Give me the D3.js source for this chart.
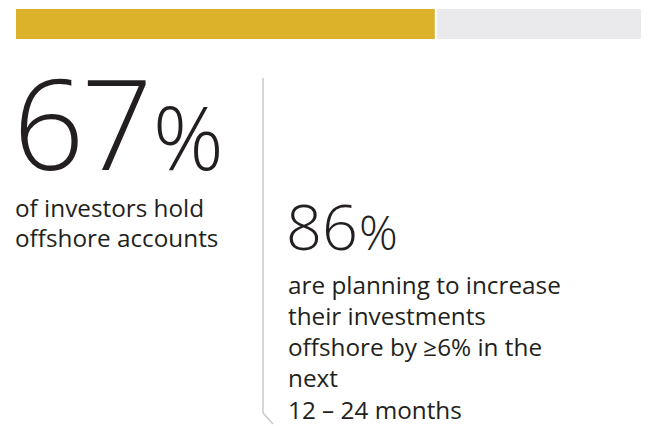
<!DOCTYPE html>
<html>
<head>
<meta charset="utf-8">
<script src="https://cdn.jsdelivr.net/npm/d3@7"></script>
<style>
  body { margin: 0; background: #fff; }
  svg { display: block; font-family: "Open Sans", "Noto Sans", sans-serif; }
</style>
</head>
<body>
<div id="chart"></div>
<script>
// values
const shares = [67, 86];
const barValue = 67;
const captions = [
  ["of investors hold", "offshore accounts"],
  ["are planning to increase", "their investments", "offshore by \u22656% in the", "next", "12 \u2013 24 months"]
];

let width = 651, height = 426;
let ink = "#231f20";

let svg = d3.select("#chart").append("svg")
  .attr("width", width).attr("height", height);

// progress bar along the top
let x = d3.scaleLinear().domain([0, 100]).range([16, 641]);
let barY = 9, barH = 30, gap = 2.5;

svg.append("rect")
  .attr("x", x(0)).attr("y", barY)
  .attr("width", x(barValue) - x(0)).attr("height", barH)
  .attr("fill", "#dbb229");

svg.append("rect")
  .attr("x", x(barValue) + gap).attr("y", barY)
  .attr("width", x(100) - x(barValue) - gap).attr("height", barH)
  .attr("fill", "#eaeaec");

// divider with the little kink at the bottom
svg.append("path")
  .attr("d", d3.line()([[263, 78], [263, 413], [273, 424]]))
  .attr("fill", "none")
  .attr("stroke", "#c9c9c9")
  .attr("stroke-width", 1.5);

// big numbers + captions
let blocks = [
  {x: 13, y: 170, big: 125, ls: -3, pct: 88, dx: 3, capY: 217, lineH: 30},
  {x: 286, y: 250, big: 63, ls: 0, pct: 48, dx: 1, capY: 293.5, lineH: 31.3}
];

blocks.forEach(function(b, i) {
  let t = svg.append("text")
    .attr("x", b.x).attr("y", b.y)
    .attr("fill", ink)
    .attr("font-weight", 300);
  t.append("tspan").attr("font-size", b.big).attr("letter-spacing", b.ls).text(shares[i]);
  t.append("tspan").attr("font-size", b.pct).attr("dx", b.dx).text("%");

  let c = svg.append("text")
    .attr("fill", ink)
    .attr("font-size", 24.3)
    .attr("font-weight", 400);
  c.selectAll("tspan").data(captions[i]).enter().append("tspan")
    .attr("x", b.x + 2)
    .attr("y", function(d, j) { return b.capY + j * b.lineH; })
    .text(function(d) { return d; });
});
</script>
</body>
</html>
